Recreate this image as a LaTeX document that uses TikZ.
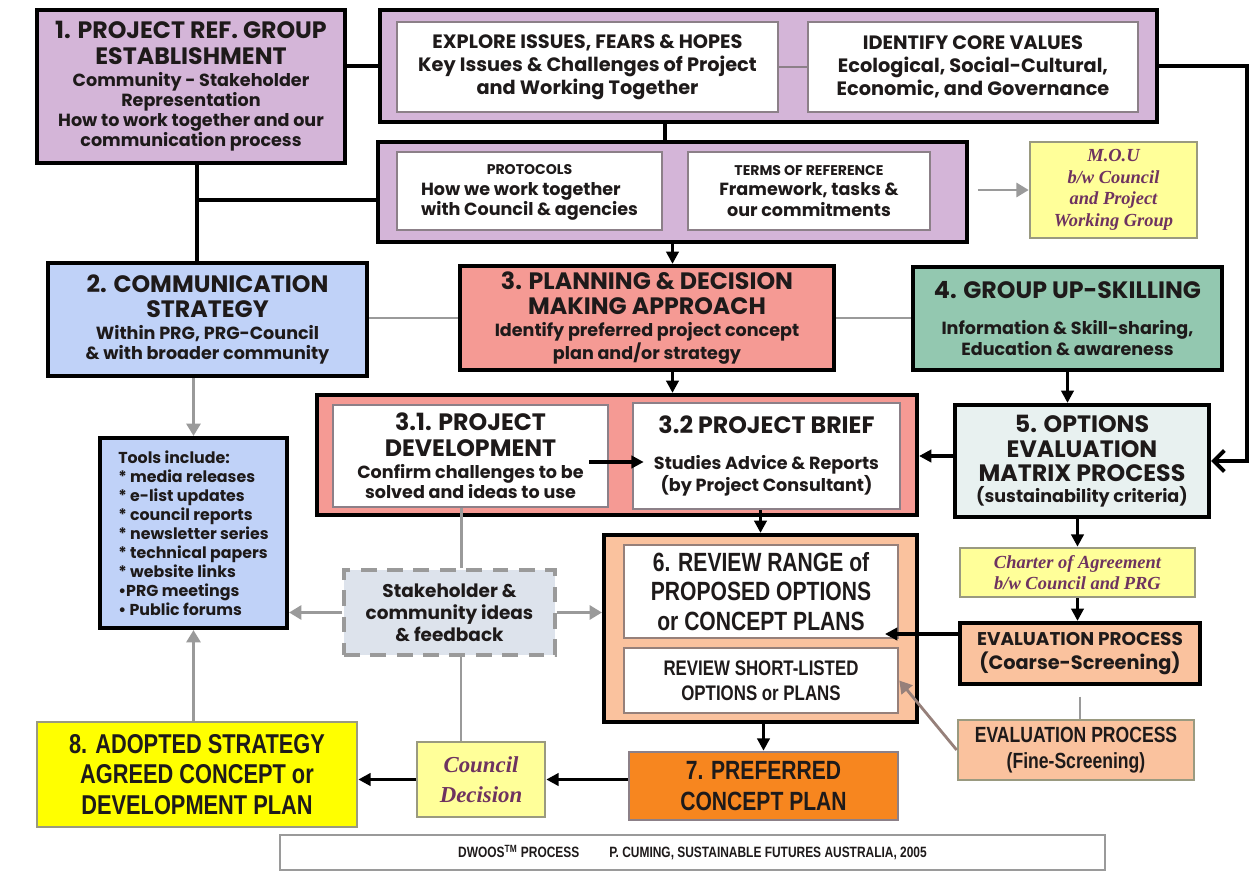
\documentclass[tikz,border=0pt]{standalone}
\usepackage{fontspec}
\setmainfont{Poppins}
\newfontfamily\narrowfont[FakeStretch=0.8]{Liberation Sans}
\newfontfamily\notefont{Liberation Serif}
\usetikzlibrary{arrows.meta}

\definecolor{lilac}{HTML}{D4B5D8}
\definecolor{skyblue}{HTML}{C0D2F8}
\definecolor{salmon}{HTML}{F59A94}
\definecolor{seagreen}{HTML}{93C8B0}
\definecolor{mist}{HTML}{E8F1F0}
\definecolor{peach}{HTML}{FAC29E}
\definecolor{deeporange}{HTML}{F7861F}
\definecolor{brightyellow}{HTML}{FFFF00}
\definecolor{paleyellow}{HTML}{FFFF99}
\definecolor{ideasblue}{HTML}{DDE3EC}
\definecolor{boxgray}{HTML}{8C8088}
\definecolor{notegray}{HTML}{9A9A80}
\definecolor{linegray}{HTML}{9A9A9A}
\definecolor{inkc}{HTML}{1E1A1A}
\definecolor{noteink}{HTML}{6E3360}

\newcommand\headt{\fontsize{13.5}{15.5}\selectfont\bfseries}
\newcommand\midt{\fontsize{11}{13}\selectfont\bfseries}
\newcommand\smallt{\fontsize{10}{11.5}\selectfont\bfseries}
\newcommand\tinyt{\fontsize{8}{11}\selectfont\bfseries}
\newcommand\narrowt[2]{\narrowfont\bfseries\fontsize{#1}{#2}\selectfont}

\tikzset{
  outerbox/.style={draw=black, line width=2.4pt, inner sep=2pt, align=center, text=inkc},
  whitebox/.style={draw=boxgray, fill=white, line width=1.5pt, inner sep=2pt, align=center, text=inkc},
  notebox/.style={draw=notegray, fill=paleyellow, line width=1.5pt, align=center, text=noteink,
    font=\notefont\bfseries\itshape\fontsize{10.5}{12.3}\selectfont},
  softbox/.style={draw=notegray, line width=1.5pt, align=center, text=inkc},
  link/.style={line width=2.2pt},
  arr/.style={line width=2pt, -{Triangle[length=7pt,width=7pt]}},
  glink/.style={draw=linegray, line width=1.6pt},
  garr/.style={glink, -{Triangle[length=7pt,width=8pt]}},
}

\begin{document}
\begin{tikzpicture}[x=0.02cm, y=-0.02cm]
\useasboundingbox (0,0) rectangle (1252,872);

% group 1 and core values
\node[outerbox, fill=lilac, minimum width=6.16cm, minimum height=3.06cm, font=\smallt] (prg) at (191,86.5)
  {\headt 1. PROJECT REF. GROUP\\[3pt]\headt ESTABLISHMENT\\[1pt]Community - Stakeholder\\Representation\\How to work together and our\\communication process};
\node[outerbox, fill=lilac, minimum width=15.54cm, minimum height=2.24cm] (grpA) at (768.5,66) {};
\node[whitebox, minimum width=7.62cm, minimum height=1.8cm, font=\midt] (explore) at (587.5,67)
  {EXPLORE ISSUES, FEARS \& HOPES\\Key Issues \& Challenges of Project\\and Working Together};
\node[whitebox, minimum width=6.6cm, minimum height=1.8cm, font=\midt] (identify) at (973,67)
  {IDENTIFY CORE VALUES\\Ecological, Social-Cultural,\\Economic, and Governance};

\node[outerbox, fill=lilac, minimum width=11.78cm, minimum height=2cm] (grpB) at (672.5,192) {};
\node[whitebox, minimum width=5.3cm, minimum height=1.56cm] (protocols) at (529.5,191)
  {\smallt\begin{tabular}{@{}l@{}}\multicolumn{1}{@{}c@{}}{\tinyt PROTOCOLS}\\How we work together\\with Council \& agencies\end{tabular}};
\node[whitebox, minimum width=4.84cm, minimum height=1.56cm, font=\smallt] (terms) at (809,191)
  {\tinyt TERMS OF REFERENCE\\Framework, tasks \&\\our commitments};
\node[notebox, minimum width=3.34cm, minimum height=1.92cm] (mou) at (1113.5,190)
  {M.O.U\\b/w Council\\and Project\\Working Group};

% second row
\node[outerbox, fill=skyblue, minimum width=6.38cm, minimum height=2.26cm, font=\smallt] (comm) at (207.5,319.5)
  {\headt 2. COMMUNICATION\\[3pt]\headt STRATEGY\\[1pt]Within PRG, PRG-Council\\\& with broader community};
\node[outerbox, fill=salmon, minimum width=7.48cm, minimum height=2.08cm, font=\smallt] (plan) at (647,318)
  {\headt 3. PLANNING \& DECISION\\[3pt]\headt MAKING APPROACH\\[1pt]Identify preferred project concept\\plan and/or strategy};
\node[outerbox, fill=seagreen, minimum width=6.18cm, minimum height=2.06cm, font=\smallt] (skill) at (1067.5,318.5)
  {\headt 4. GROUP UP-SKILLING\\[9pt]Information \& Skill-sharing,\\Education \& awareness};

% project development
\node[outerbox, fill=salmon, minimum width=12cm, minimum height=2.4cm] (grpC) at (617,455) {};
\node[whitebox, minimum width=5.5cm, minimum height=2.04cm, font=\smallt] (dev) at (470.5,456)
  {\headt 3.1. PROJECT\\[3pt]\headt DEVELOPMENT\\[1pt]Confirm challenges to be\\solved and ideas to use};
\node[whitebox, minimum width=5.34cm, minimum height=2.12cm, font=\smallt] (brief) at (766.5,456)
  {\headt 3.2 PROJECT BRIEF\\[9pt]Studies Advice \& Reports\\(by Project Consultant)};
\node[outerbox, fill=mist, minimum width=5.08cm, minimum height=2.24cm, font=\smallt] (matrix) at (1082,461)
  {\headt 5. OPTIONS\\[2.5pt]\headt EVALUATION\\[2.5pt]\headt MATRIX PROCESS\\(sustainability criteria)};
\node[outerbox, fill=skyblue, minimum width=3.74cm, minimum height=3.8cm, align=left,
  font=\fontsize{9}{10.8}\selectfont\bfseries] (tools) at (193.5,533)
  {Tools include:\\* media releases\\* e-list updates\\* council reports\\* newsletter series\\* technical papers\\* website links\\\textbullet PRG meetings\\\textbullet{} Public forums};
\node[softbox, draw=linegray, fill=ideasblue, dashed, dash pattern=on 9pt off 6pt, line width=2pt,
  minimum width=4.22cm, minimum height=1.7cm, font=\fontsize{10.5}{12.5}\selectfont\bfseries] (ideas) at (449.5,612.5)
  {Stakeholder \&\\community ideas\\\& feedback};

% review of options
\node[outerbox, fill=peach, minimum width=6.26cm, minimum height=3.74cm] (grpD) at (760.5,628.5) {};
\node[whitebox, draw=boxgray!80!brown, minimum width=5.48cm, minimum height=1.86cm, font=\narrowt{15}{16.8}] (range) at (761,591.5)
  {6. REVIEW RANGE of\\PROPOSED OPTIONS\\or CONCEPT PLANS};
\node[whitebox, draw=boxgray!80!brown, minimum width=5.48cm, minimum height=1.3cm, font=\narrowt{12}{14}] (short) at (761,680.5)
  {REVIEW SHORT-LISTED\\OPTIONS or PLANS};
\node[notebox, minimum width=4.7cm, minimum height=0.98cm] (charter) at (1077.5,572.5)
  {Charter of Agreement\\b/w Council and PRG};
\node[outerbox, fill=peach, minimum width=4.8cm, minimum height=1.22cm, font=\fontsize{11}{13.5}\selectfont\bfseries] (coarse) at (1080,653.5)
  {\fontsize{10.5}{12}\selectfont EVALUATION PROCESS\\(Coarse-Screening)};
\node[softbox, fill=peach, minimum width=4.72cm, minimum height=1.2cm, font=\narrowt{12.5}{14.5}] (fine) at (1076,750)
  {EVALUATION PROCESS\\(Fine-Screening)};

% outcome row
\node[softbox, fill=brightyellow, minimum width=6.4cm, minimum height=2.1cm, font=\narrowt{15.5}{17.5}] (adopted) at (197,774.5)
  {8. ADOPTED STRATEGY\\AGREED CONCEPT or\\DEVELOPMENT PLAN};
\node[notebox, minimum width=2.56cm, minimum height=1.5cm, font=\notefont\bfseries\itshape\fontsize{13}{17}\selectfont] (council) at (481,779.5)
  {Council\\Decision};
\node[softbox, draw=boxgray, fill=deeporange, minimum width=5.38cm, minimum height=1.36cm, font=\narrowt{15}{17.5}] (pref) at (763.5,786)
  {7. PREFERRED\\CONCEPT PLAN};
\node[softbox, draw=linegray, fill=white, minimum width=16.5cm, minimum height=0.7cm, font=\narrowt{8.5}{10}] (dwoos) at (692.5,852.5)
  {DWOOS\textsuperscript{TM} PROCESS\hspace{2em}P. CUMING, SUSTAINABLE FUTURES AUSTRALIA, 2005};

% connectors
\coordinate (jn) at (197,200);
\coordinate (rc) at (1247,461);
\coordinate (ct) at (885,634);
\draw[link] (grpA.west) -- (grpA.west -| prg.east);
\draw[glink, draw=boxgray] (explore) -- (identify);
\draw[link] (grpA.south -| 665,0) -- (grpB.north -| 665,0);
\draw[link] (prg.south -| jn) -- (jn |- comm.north);
\draw[link] (jn) -- (jn -| grpB.west);
\draw[arr] (grpB.south) -- (grpB.south |- plan.north);
\draw[garr, shorten <=5pt] (grpB.east |- mou.west) -- (mou.west);
\draw[link, -{Straight Barb[length=6pt,width=12pt]}] (grpA.east) -| (rc) -- (matrix.east);
\draw[glink] (comm.east |- plan.west) -- (plan.west);
\draw[glink] (plan.east) -- (plan.east -| skill.west);
\draw[arr] (skill.south) -- (skill.south |- matrix.north);
\draw[arr] (grpB.south |- plan.south) -- (grpB.south |- grpC.north);
\draw[arr] (matrix.west |- dev.east) -- (matrix.west |- dev.east -| grpC.east);
\draw[arr] ([xshift=-0.4cm,yshift=-0.12cm]dev.east) -- ([xshift=0.24cm,yshift=-0.12cm]brief.west);
\draw[arr] (brief.south -| grpD.north) -- (grpD.north);
\draw[glink] ([xshift=-0.18cm]dev.south) -- ([xshift=-0.18cm]dev.south |- ideas.north);
\draw[glink] ([xshift=0.23cm]ideas.south) -- ([xshift=0.23cm]ideas.south |- council.north);
\draw[garr] (ideas.west) -- (ideas.west -| tools.east);
\draw[garr] (ideas.east) -- (ideas.east -| grpD.west);
\draw[garr] (tools.north |- comm.south) -- (tools.north);
\draw[garr] (tools.south |- adopted.north) -- (tools.south);
\draw[arr] (pref.north |- grpD.south) -- (pref.north);
\draw[arr] (pref.west |- council.east) -- (council.east);
\draw[arr] (council.west) -- (council.west -| adopted.east);
\draw[arr] (charter.north |- matrix.south) -- (charter.north);
\draw[arr] (charter.south) -- (charter.south |- coarse.north);
\draw[arr] (coarse.west |- ct) -- (ct);
\draw[glink, shorten <=6pt] (coarse.south) -- (coarse.south |- fine.north);
\draw[garr, draw=boxgray!80!brown] (fine.west) -- (short.east);

\end{tikzpicture}
\end{document}
